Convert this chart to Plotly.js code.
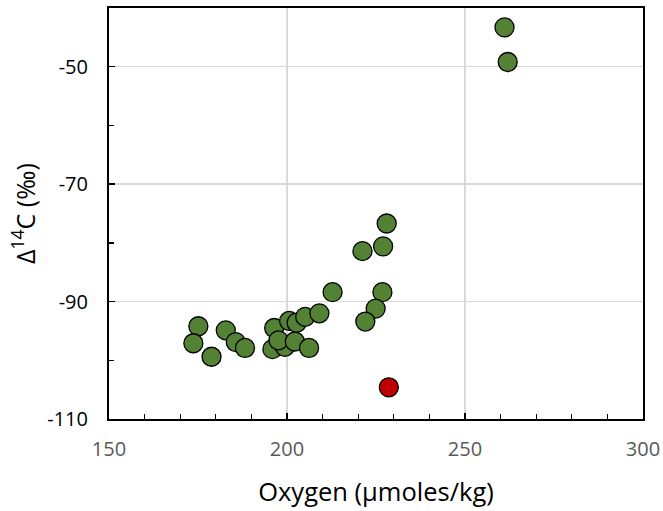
<!DOCTYPE html>
<html>
<head>
<meta charset="utf-8">
<script src="https://cdn.plot.ly/plotly-3.0.1.min.js"></script>
<style>html,body{margin:0;padding:0;background:#fff;}#chart{width:663px;height:511px;}</style>
</head>
<body>
<div id="chart"></div>
<script>
// Green samples
const oxygenGreen = [175.1, 173.7, 178.8, 182.8, 185.6, 188.2, 196.4, 195.9, 199.4, 200.6, 197.6, 202.2, 202.7, 205.1, 209.1, 206.2, 212.8, 221.2, 228.0, 227.0, 226.8, 224.9, 222.0, 261.1, 262.0];
const d14cGreen   = [-94.2, -97.1, -99.4, -94.9, -96.9, -97.9, -94.5, -98.1, -97.7, -93.3, -96.6, -96.8, -93.6, -92.6, -92.0, -97.9, -88.4, -81.4, -76.7, -80.6, -88.4, -91.2, -93.4, -43.3, -49.2];
// Red outlier
const oxygenRed = [228.6];
const d14cRed   = [-104.6];
// Tick labels
const xTickVals = [150, 200, 250, 300];
const xTickText = ["150", "200", "250", "300"];
const yTickVals = [-110, -90, -70, -50];
const yTickText = ["-110", "-90", "-70", "-50"];

const font = "'Open Sans', sans-serif";
const traces = [
  {x: oxygenGreen, y: d14cGreen, type: 'scatter', mode: 'markers',
   marker: {color: '#548235', size: 19, line: {color: '#000', width: 1.3}}, hoverinfo: 'x+y'},
  {x: oxygenRed, y: d14cRed, type: 'scatter', mode: 'markers',
   marker: {color: '#c00000', size: 19, line: {color: '#000', width: 1.3}}, hoverinfo: 'x+y'}
];
const layout = {
  width: 663, height: 511,
  margin: {l: 109, r: 20, t: 8, b: 92},
  paper_bgcolor: '#fff', plot_bgcolor: '#fff',
  showlegend: false,
  font: {family: font, color: '#595959', size: 20},
  xaxis: {
    range: [150, 300], tickmode: 'array', tickvals: xTickVals, ticktext: xTickText,
    showline: true, linecolor: '#000', linewidth: 2, mirror: true,
    showgrid: true, gridcolor: '#d9d9d9', gridwidth: 1.5, zeroline: false,
    ticks: 'inside', ticklen: 6, tickcolor: '#000', tickwidth: 1.3,
    minor: {tickmode: 'linear', tick0: 150, dtick: 10, ticks: 'inside', ticklen: 5, tickcolor: '#000', tickwidth: 1.3, showgrid: false},
    tickfont: {family: font, size: 20, color: '#595959'},
    ticklabelstandoff: 11,
    automargin: false,
    title: {text: 'Oxygen (µmoles/kg)', font: {family: font, size: 25.5, color: '#000'}, standoff: 22}
  },
  yaxis: {
    range: [-110, -40], tickmode: 'array', tickvals: yTickVals, ticktext: yTickText,
    showline: true, linecolor: '#000', linewidth: 2, mirror: true,
    showgrid: true, gridcolor: '#d9d9d9', gridwidth: 1.5, zeroline: false,
    ticks: 'inside', ticklen: 6, tickcolor: '#000', tickwidth: 1.3,
    minor: {tickmode: 'linear', tick0: -110, dtick: 10, ticks: 'inside', ticklen: 5, tickcolor: '#000', tickwidth: 1.3, showgrid: false},
    tickfont: {family: font, size: 20, color: '#000'},
    ticklabelstandoff: 15,
    automargin: false,
    title: {text: 'Δ<sup>14</sup>C (‰)', font: {family: font, size: 25, color: '#000'}, standoff: 5}
  }
};
Plotly.newPlot('chart', traces, layout, {displayModeBar: false, staticPlot: true});
</script>
</body>
</html>
